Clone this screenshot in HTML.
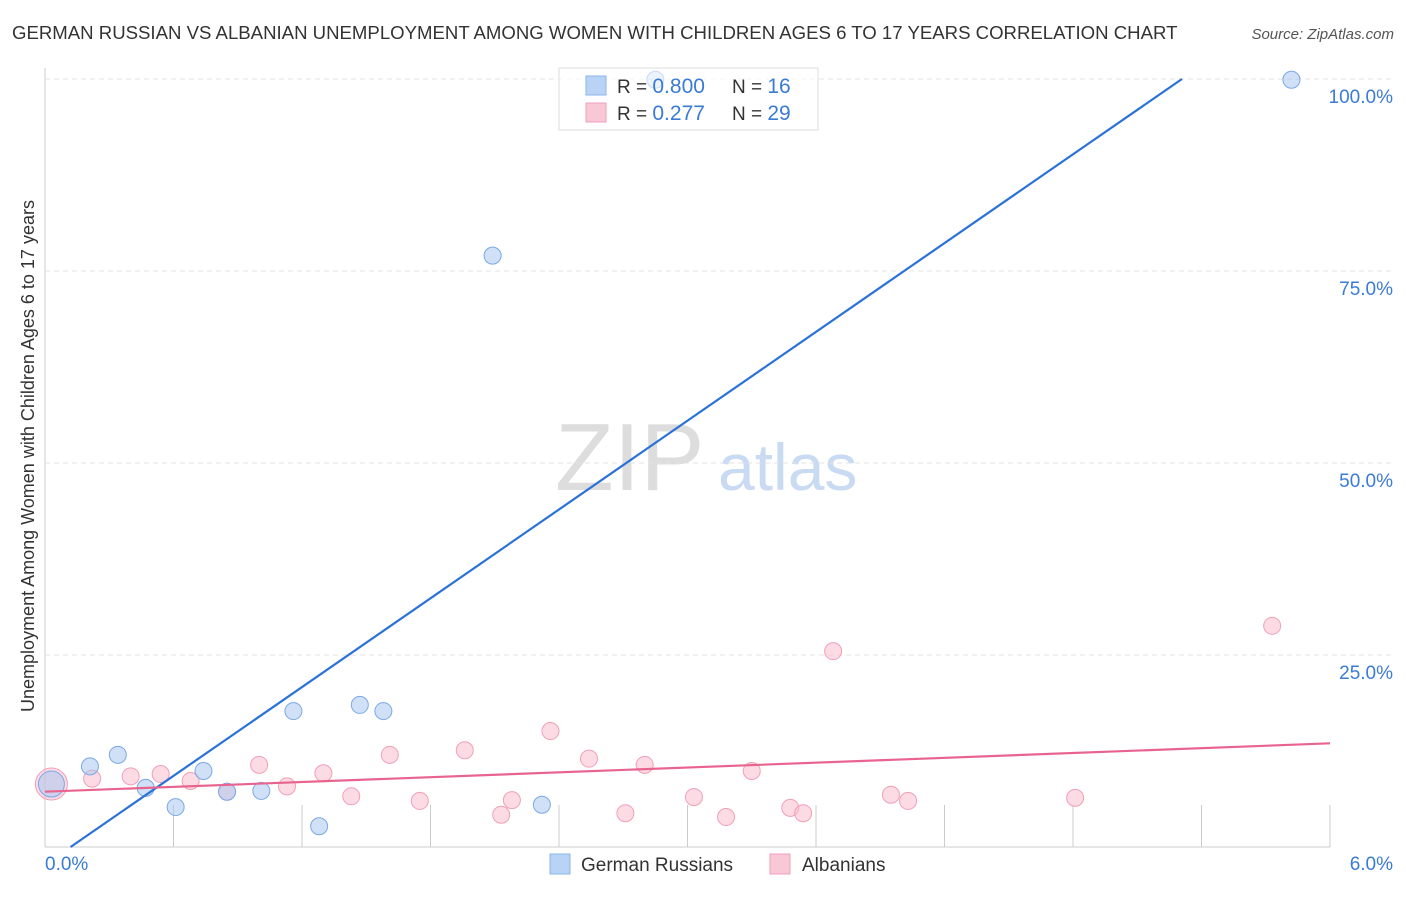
<!DOCTYPE html>
<html><head><meta charset="utf-8"><style>
body{margin:0;background:#fff;font-family:"Liberation Sans",sans-serif;}
svg text{font-family:"Liberation Sans",sans-serif;}
</style></head><body>
<svg id="c" width="1406" height="892" xmlns="http://www.w3.org/2000/svg">
<text x="12" y="39" font-size="18.6" fill="#333">GERMAN RUSSIAN VS ALBANIAN UNEMPLOYMENT AMONG WOMEN WITH CHILDREN AGES 6 TO 17 YEARS CORRELATION CHART</text>
<text x="1394" y="39" font-size="15" fill="#555" font-style="italic" text-anchor="end">Source: ZipAtlas.com</text>
<text transform="translate(34,456) rotate(-90)" font-size="18" fill="#333" text-anchor="middle">Unemployment Among Women with Children Ages 6 to 17 years</text>
<text x="555" y="490" font-size="96" fill="#ddd" font-family="Liberation Serif">ZIP</text>
<text x="718" y="490" font-size="66" fill="#c9daf3">atlas</text>
<g id="grid"></g><g id="marks"></g><g id="lines"></g>
<g>
<rect x="559" y="68" width="259" height="62" fill="#fff" fill-opacity="0.6" stroke="#ddd"/>
<rect x="586" y="76" width="20" height="19" fill="#b9d3f5" stroke="#8ab4ea"/>
<rect x="586" y="103" width="20" height="19" fill="#f9c8d6" stroke="#f0a0b8"/>
<text x="617" y="93" font-size="19" fill="#333">R = <tspan fill="#3a7bd5" font-size="21">0.800</tspan></text>
<text x="732" y="93" font-size="19" fill="#333">N = <tspan fill="#3a7bd5" font-size="21"> 16</tspan></text>
<text x="617" y="120" font-size="19" fill="#333">R = <tspan fill="#3a7bd5" font-size="21"> 0.277</tspan></text>
<text x="732" y="120" font-size="19" fill="#333">N = <tspan fill="#3a7bd5" font-size="21">29</tspan></text>
</g>
<g>
<rect x="550" y="854" width="20" height="20" fill="#b9d3f5" stroke="#8ab4ea"/>
<text x="581" y="871" font-size="19" fill="#333">German Russians</text>
<rect x="770" y="854" width="20" height="20" fill="#f9c8d6" stroke="#f0a0b8"/>
<text x="802" y="871" font-size="19" fill="#333">Albanians</text>
</g>
</svg>
<script>
const xTicks=[0,0.6,1.2,1.8,2.4,3.0,3.6,4.2,4.8,5.4,6.0];
const yTicks=[25,50,75,100];
const yTickLabels=["25.0%","50.0%","75.0%","100.0%"];
const xLabels=["0.0%","6.0%"];
const blueX=[0.03,0.21,0.34,0.47,0.61,0.74,0.85,1.01,1.16,1.28,1.47,1.58,2.09,2.32,2.85,5.82];
const blueY=[8.2,10.5,12.0,7.7,5.2,9.9,7.2,7.3,17.7,2.7,18.5,17.7,77.0,5.5,99.9,99.9];
const pinkX=[0.03,0.22,0.40,0.54,0.68,0.85,1.00,1.13,1.30,1.43,1.61,1.75,1.96,2.13,2.18,2.36,2.54,2.71,2.80,3.03,3.18,3.30,3.48,3.54,3.68,3.95,4.03,4.81,5.73];
const pinkY=[8.2,8.9,9.2,9.5,8.6,7.2,10.7,7.9,9.6,6.6,12.0,6.0,12.6,4.2,6.1,15.1,11.5,4.4,10.7,6.5,3.9,9.9,5.1,4.4,25.5,6.8,6.0,6.4,28.8];
const blueTrend=[-2.3,19.27];
const pinkTrend=[7.2,1.05];
const X=v=>45+v/6*1285, Y=v=>847-v/100*768;
const NS="http://www.w3.org/2000/svg";
function mk(t,a,p){const e=document.createElementNS(NS,t);for(const k in a)e.setAttribute(k,a[k]);p.appendChild(e);return e;}
const g=document.getElementById('grid');
let ax=mk('line',{x1:45,y1:68,x2:45,y2:847,stroke:'#ccc'},g);


let bx=mk('line',{x1:45,y1:847,x2:1330,y2:847,stroke:'#ccc'},g);


xTicks.forEach((t,i)=>{if(i===0)return;const l=mk('line',{x1:X(t),y1:805,x2:X(t),y2:847,stroke:'#ccc'},g);

});
yTicks.forEach((t,i)=>{const l=mk('line',{x1:45,y1:Y(t),x2:1395,y2:Y(t),stroke:'#e3e3e3','stroke-dasharray':'5,4'},g);


const tx=mk('text',{x:1393,y:Y(t)+24,'font-size':19,fill:'#3a7bd5','text-anchor':'end'},g);tx.textContent=yTickLabels[i];

});
[[0,'start',45],[6,'end',1393]].forEach((d,i)=>{const tx=mk('text',{x:d[2],y:870,'font-size':19,fill:'#3a7bd5','text-anchor':d[1]},g);tx.textContent=xLabels[i];

});
const m=document.getElementById('marks');
pinkX.forEach((v,i)=>{const c=mk('circle',{cx:X(v),cy:Y(pinkY[i]),r:i===0?16:8.5,fill:'rgba(249,190,208,0.55)',stroke:'#f0a0b8','stroke-width':1},m);

});
blueX.forEach((v,i)=>{const c=mk('circle',{cx:X(v),cy:Y(blueY[i]),r:i===0?13:8.5,fill:'rgba(170,200,240,0.55)',stroke:'#7aa8e6','stroke-width':1},m);

});
const L=document.getElementById('lines');
const bx0=(0-blueTrend[0])/blueTrend[1], bx1=(100-blueTrend[0])/blueTrend[1];
let bl=mk('line',{x1:X(bx0),y1:Y(0),x2:X(bx1),y2:Y(100),stroke:'#2a72d8','stroke-width':2.2},L);


let pl=mk('line',{x1:X(0),y1:Y(pinkTrend[0]),x2:X(6),y2:Y(pinkTrend[0]+6*pinkTrend[1]),stroke:'#e8648e','stroke-width':2.2},L);


</script>
</body></html>
